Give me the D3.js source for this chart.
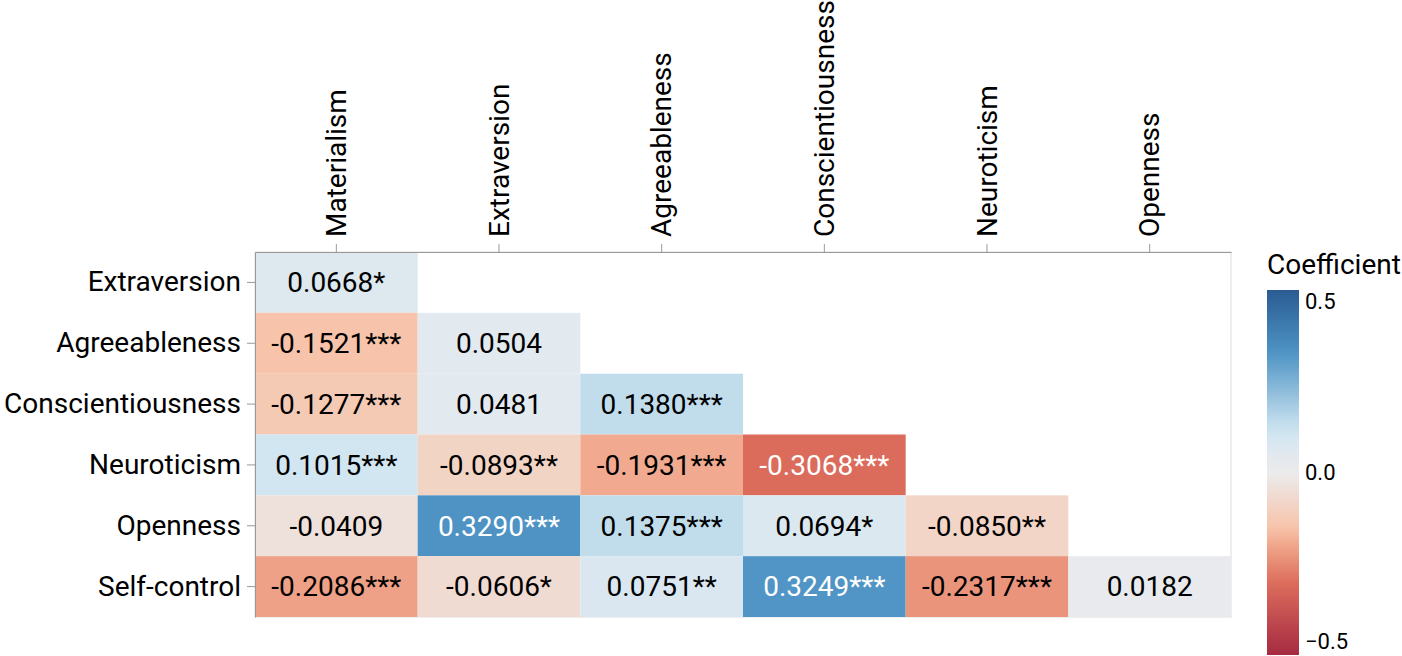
<!DOCTYPE html>
<html>
<head>
<meta charset="utf-8">
<script src="https://cdn.jsdelivr.net/npm/d3@7"></script>
<style>
  body { margin: 0; background: #fff; }
  text { font-family: Roboto, "Noto Sans", sans-serif; }
</style>
</head>
<body>
<div id="chart"></div>
<script>
// Variables on the axes
var colVars = ["Materialism", "Extraversion", "Agreeableness", "Conscientiousness", "Neuroticism", "Openness"];
var rowVars = ["Extraversion", "Agreeableness", "Conscientiousness", "Neuroticism", "Openness", "Self-control"];

// Lower-triangle correlation values, one list per row
var extraversionVals = [0.0668];
var agreeablenessVals = [-0.1521, 0.0504];
var conscientiousnessVals = [-0.1277, 0.0481, 0.1380];
var neuroticismVals = [0.1015, -0.0893, -0.1931, -0.3068];
var opennessVals = [-0.0409, 0.3290, 0.1375, 0.0694, -0.0850];
var selfControlVals = [-0.2086, -0.0606, 0.0751, 0.3249, -0.2317, 0.0182];

// Significance stars, same layout
var extraversionSig = ["*"];
var agreeablenessSig = ["***", ""];
var conscientiousnessSig = ["***", "", "***"];
var neuroticismSig = ["***", "**", "***", "***"];
var opennessSig = ["", "***", "***", "*", "**"];
var selfControlSig = ["***", "*", "**", "***", "***", ""];

var legendTicks = [0.5, 0.0, -0.5];

var rowValues = [extraversionVals, agreeablenessVals, conscientiousnessVals, neuroticismVals, opennessVals, selfControlVals];
var rowSig = [extraversionSig, agreeablenessSig, conscientiousnessSig, neuroticismSig, opennessSig, selfControlSig];

// Build the cell table
var cells = [];
rowVars.forEach(function (r, i) {
    rowValues[i].forEach(function (v, j) {
        cells.push({ row: r, col: colVars[j], value: v, sig: rowSig[i][j] });
    });
});

var W = 1402, H = 656;
var margin = { top: 252, left: 255 },
    width = 976,
    height = 365;

var svg = d3.select("#chart")
    .append("svg")
    .attr("width", W)
    .attr("height", H);

var g = svg.append("g")
    .attr("transform", "translate(" + margin.left + "," + margin.top + ")");

var x = d3.scaleBand().domain(colVars).range([0, width]);
var y = d3.scaleBand().domain(rowVars).range([0, height]);

// red-blue diverging ramp, a bit softer than RdBu
var color = d3.scaleLinear()
    .domain([-0.5, -0.3, -0.2, -0.15, 0, 0.05, 0.1, 0.14, 0.33, 0.5])
    .range(["#a52a40", "#dd6e5d", "#f0a68a", "#f7c4ab", "#ebebec", "#e2e9ef", "#d2e6f0", "#c0dcec", "#4d93c4", "#2a5c92"])
    .interpolate(d3.interpolateRgb)
    .clamp(true);

// View frame
g.append("rect")
    .attr("width", width)
    .attr("height", height)
    .attr("fill", "none")
    .attr("stroke", "#ddd");

// Cells
g.selectAll(".cell")
    .data(cells)
    .enter()
    .append("rect")
    .attr("class", "cell")
    .attr("x", function (d) { return x(d.col); })
    .attr("y", function (d) { return y(d.row); })
    .attr("width", x.bandwidth())
    .attr("height", y.bandwidth())
    .attr("fill", function (d) { return color(d.value); });

g.selectAll(".lbl")
    .data(cells)
    .enter()
    .append("text")
    .attr("class", "lbl")
    .attr("x", function (d) { return x(d.col) + x.bandwidth() / 2; })
    .attr("y", function (d) { return y(d.row) + y.bandwidth() / 2; })
    .attr("text-anchor", "middle")
    .attr("dy", "0.35em")
    .style("font-size", "28px")
    .attr("fill", function (d) { return Math.abs(d.value) > 0.3 ? "#fff" : "#000"; })
    .text(function (d) { return d.value.toFixed(4) + d.sig; });

// Axes
var xAxis = g.append("g")
    .call(d3.axisTop(x).tickSize(8).tickSizeOuter(0));
xAxis.selectAll("text")
    .attr("transform", "rotate(-90)")
    .attr("text-anchor", "start")
    .attr("x", 15)
    .attr("y", 0)
    .attr("dy", "0.35em")
    .style("font-size", "28px")
    .attr("fill", "#000");

var yAxis = g.append("g")
    .call(d3.axisLeft(y).tickSize(8).tickSizeOuter(0).tickPadding(6));
yAxis.selectAll("text")
    .style("font-size", "28px")
    .attr("fill", "#000");

[xAxis, yAxis].forEach(function (a) {
    a.select(".domain").attr("stroke", "#999");
    a.selectAll(".tick line").attr("stroke", "#999");
});

// Legend
var lx = 1267, ly = 290, lw = 32, lh = 365;
var defs = svg.append("defs");
var grad = defs.append("linearGradient")
    .attr("id", "grad")
    .attr("x1", 0).attr("y1", 1).attr("x2", 0).attr("y2", 0);
d3.range(0, 1.0001, 0.02).forEach(function (t) {
    grad.append("stop")
        .attr("offset", t)
        .attr("stop-color", color(-0.5 + t));
});

svg.append("text")
    .attr("x", lx)
    .attr("y", 274)
    .style("font-size", "28px")
    .text("Coefficient");

svg.append("rect")
    .attr("x", lx)
    .attr("y", ly)
    .attr("width", lw)
    .attr("height", lh)
    .attr("fill", "url(#grad)");

var ls = d3.scaleLinear().domain([-0.5, 0.5]).range([ly + lh, ly]);
svg.selectAll(".ltick")
    .data(legendTicks)
    .enter()
    .append("text")
    .attr("class", "ltick")
    .attr("x", lx + lw + 6)
    .attr("y", function (d) { return d === 0.5 ? ls(d) + 19 : d === -0.5 ? ls(d) - 6 : ls(d); })
    .attr("dy", function (d) { return d === 0 ? "0.35em" : "0"; })
    .style("font-size", "22px")
    .text(function (d) { return d < 0 ? "\u2212" + Math.abs(d).toFixed(1) : d.toFixed(1); });
</script>
</body>
</html>
